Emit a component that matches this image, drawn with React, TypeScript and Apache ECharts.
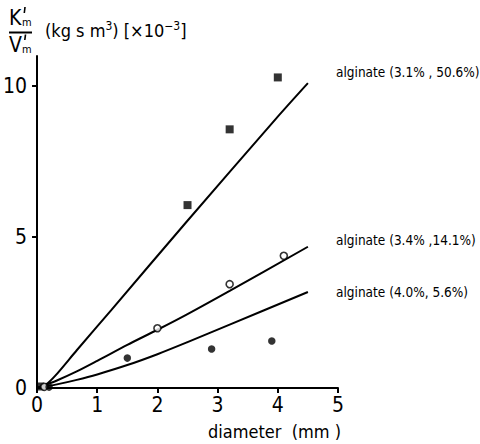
import React, { useEffect, useRef } from "react";
import * as echarts from "echarts";

// Fitted curves (diameter in mm, K'm/V'm in kg s m^-3 x 10^-3)
const fitDiameterA = [0, 0.15, 0.3, 0.66, 1.24, 2.46, 3.96, 4.5];
const fitValueA = [0, 0.12, 0.4, 1.25, 2.6, 5.45, 8.9, 10.1];
const fitDiameterB = [0, 0.33, 0.66, 1.0, 1.5, 2.0, 2.5, 3.2, 4.5];
const fitValueB = [0, 0.25, 0.55, 0.9, 1.43, 1.93, 2.45, 3.22, 4.68];
const fitDiameterC = [0, 0.33, 0.66, 1.0, 1.5, 2.0, 2.5, 3.2, 4.5];
const fitValueC = [0, 0.12, 0.27, 0.45, 0.76, 1.12, 1.52, 2.1, 3.18];

// Measured points
const pointDiameterA = [0.05, 2.5, 3.2, 4.0];
const pointValueA = [0.05, 6.06, 8.57, 10.29];
const pointDiameterB = [0.12, 2.0, 3.2, 4.1];
const pointValueB = [0.04, 1.98, 3.44, 4.38];
const pointDiameterC = [0.2, 1.5, 2.9, 3.9];
const pointValueC = [0.03, 0.99, 1.29, 1.56];

const seriesLabels = [
  "alginate (3.1% , 50.6%)",
  "alginate (3.4% ,14.1%)",
  "alginate (4.0%, 5.6%)",
];

const xTickValues = [0, 1, 2, 3, 4, 5];
const yTickValues = [0, 5, 10];

const FONT = "'Liberation Sans Narrow', 'DejaVu Sans Condensed', 'Liberation Sans', sans-serif";
const INK = "#000";

const zip = (xs: number[], ys: number[]) => xs.map((x, i) => [x, ys[i]]);

export default function App() {
  const ref = useRef<HTMLDivElement>(null);

  useEffect(() => {
    if (!ref.current) return;
    const chart = echarts.init(ref.current, null, { renderer: "svg" });

    const fitLine = (xs: number[], ys: number[]) => ({
      type: "line",
      data: zip(xs, ys),
      smooth: 0.3,
      symbol: "none",
      lineStyle: { color: INK, width: 2 },
      z: 2,
    });

    chart.setOption({
      animation: false,
      backgroundColor: "#fff",
      grid: { left: 35, right: 142, top: 56, bottom: 56 },
      xAxis: {
        type: "value",
        min: 0,
        max: 5,
        interval: 1,
        splitLine: { show: false },
        axisLine: { lineStyle: { color: INK, width: 2 } },
        axisTick: { show: true, length: 5, lineStyle: { color: INK, width: 2 }, customValues: xTickValues },
        axisLabel: {
          color: INK,
          fontFamily: FONT,
          fontSize: 21,
          margin: 6,
          customValues: xTickValues,
        },
      },
      yAxis: {
        type: "value",
        min: 0,
        max: 11,
        interval: 5,
        splitLine: { show: false },
        axisLine: { lineStyle: { color: INK, width: 2 } },
        axisTick: { show: true, length: 5, lineStyle: { color: INK, width: 2 }, customValues: [5, 10] },
        axisLabel: {
          color: INK,
          fontFamily: FONT,
          fontSize: 21,
          margin: 10,
          customValues: yTickValues,
        },
      },
      graphic: [
        // y-axis quantity: K'm / V'm
        { type: "text", left: 9, top: 7, style: { text: "K", font: `21px ${FONT}`, fill: INK } },
        { type: "text", left: 22, top: 17, style: { text: "m", font: `11px ${FONT}`, fill: INK } },
        { type: "line", shape: { x1: 25, y1: 7, x2: 24.3, y2: 13 }, style: { stroke: INK, lineWidth: 1.6 } },
        { type: "line", shape: { x1: 9, y1: 32.5, x2: 32, y2: 32.5 }, style: { stroke: INK, lineWidth: 2 } },
        { type: "text", left: 9, top: 34, style: { text: "V", font: `21px ${FONT}`, fill: INK } },
        { type: "text", left: 22, top: 44, style: { text: "m", font: `11px ${FONT}`, fill: INK } },
        { type: "line", shape: { x1: 25.5, y1: 34.5, x2: 24.8, y2: 40 }, style: { stroke: INK, lineWidth: 1.6 } },
        {
          type: "text",
          left: 45,
          top: 20,
          style: {
            text: "(kg s m{sup|3}) [×10{sup|−3}]",
            font: `18px ${FONT}`,
            fill: INK,
            rich: {
              sup: { fontSize: 12, fontFamily: FONT, fill: INK, verticalAlign: "top", padding: [0, 0, 8, 0] },
            },
          },
        },
        // curve labels
        { type: "text", left: 336, top: 65, style: { text: seriesLabels[0], font: `13.5px ${FONT}`, fill: INK } },
        { type: "text", left: 336, top: 233, style: { text: seriesLabels[1], font: `13.5px ${FONT}`, fill: INK } },
        { type: "text", left: 336, top: 285, style: { text: seriesLabels[2], font: `13.5px ${FONT}`, fill: INK } },
        // x-axis name
        { type: "text", left: 208, top: 422, style: { text: "diameter  (mm )", font: `18px ${FONT}`, fill: INK } },
      ],
      series: [
        fitLine(fitDiameterA, fitValueA),
        fitLine(fitDiameterB, fitValueB),
        fitLine(fitDiameterC, fitValueC),
        {
          type: "scatter",
          data: zip(pointDiameterA, pointValueA),
          symbol: "rect",
          symbolSize: 8,
          itemStyle: { color: INK },
          z: 3,
        },
        {
          type: "scatter",
          data: zip(pointDiameterB, pointValueB),
          symbol: "circle",
          symbolSize: 7,
          itemStyle: { color: "#fff", borderColor: INK, borderWidth: 1.6 },
          z: 3,
        },
        {
          type: "scatter",
          data: zip(pointDiameterC, pointValueC),
          symbol: "circle",
          symbolSize: 7.5,
          itemStyle: { color: INK },
          z: 3,
        },
      ],
    });

    return () => chart.dispose();
  }, []);

  return <div ref={ref} style={{ width: 480, height: 444, position: "absolute", left: 0, top: 0 }} />;
}
